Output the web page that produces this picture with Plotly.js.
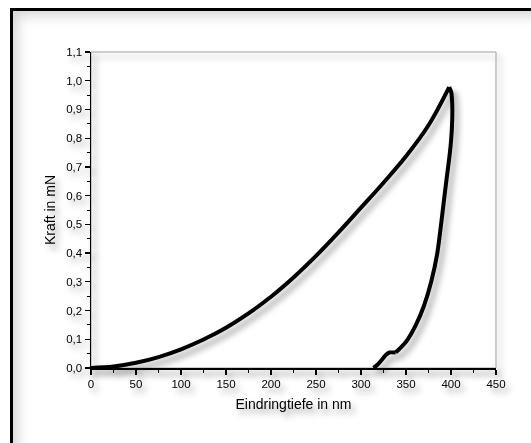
<!DOCTYPE html>
<html>
<head>
<meta charset="utf-8">
<script src="https://cdn.plot.ly/plotly-3.0.1.min.js"></script>
<style>
  html, body { margin: 0; padding: 0; width: 531px; height: 443px; overflow: hidden; background: #fff; }
  #frame { position: absolute; left: 10px; top: 8px; width: 560px; height: 480px; border: 3px solid #000;
           box-shadow: inset 0 0 14px 4px rgba(0,0,0,0.18); background: #fff; }
  #plot { position: absolute; left: 0; top: 0; width: 531px; height: 443px;
          filter: drop-shadow(4px 5px 3px rgba(0,0,0,0.38)); }
</style>
</head>
<body>
<div id="frame"></div>
<div id="plot"></div>
<script>
const loadDepth = [0, 25, 50, 75, 100, 125, 150, 175, 200, 225, 250, 275, 300, 325, 350, 375, 398];
const loadForce = [0, 0.005, 0.018, 0.038, 0.065, 0.099, 0.140, 0.190, 0.248, 0.315, 0.390, 0.472, 0.558, 0.645, 0.737, 0.845, 0.978];
const unloadUpperDepth = [398, 400.3, 401.2, 401.5, 401.2, 400.3, 398.8, 396.8, 392.8, 389, 384.8, 378, 369.8, 361, 352, 345.5, 340.5, 338.5];
const unloadUpperForce = [0.978, 0.96, 0.93, 0.9, 0.85, 0.8, 0.75, 0.7, 0.6, 0.5, 0.4, 0.3, 0.215, 0.15, 0.1, 0.075, 0.06, 0.054];
const unloadLowerDepth = [338.5, 331.5, 327.5, 323, 318.5, 314];
const unloadLowerForce = [0.054, 0.054, 0.045, 0.028, 0.012, 0];
const xTitle = 'Eindringtiefe in nm';
const yTitle = 'Kraft in mN';

const line = {color: '#000', width: 4};
const data = [
  {x: loadDepth, y: loadForce, mode: 'lines', line: Object.assign({shape: 'spline', smoothing: 1}, line), hoverinfo: 'none'},
  {x: unloadUpperDepth, y: unloadUpperForce, mode: 'lines', line: Object.assign({shape: 'spline', smoothing: 0.6}, line), hoverinfo: 'none'},
  {x: unloadLowerDepth, y: unloadLowerForce, mode: 'lines', line: Object.assign({shape: 'spline', smoothing: 0.4}, line), hoverinfo: 'none'}
];
const font = {family: 'Liberation Sans, Arial, sans-serif', color: '#000'};
const layout = {
  width: 531, height: 443,
  margin: {l: 91, r: 35, t: 52, b: 75},
  paper_bgcolor: 'rgba(0,0,0,0)', plot_bgcolor: 'rgba(0,0,0,0)',
  separators: ',.',
  showlegend: false,
  font: Object.assign({size: 11.5}, font),
  xaxis: {
    range: [0, 450], dtick: 50, tick0: 0, showgrid: false, zeroline: false,
    showline: true, linecolor: '#000', linewidth: 1.5,
    ticks: 'outside', ticklen: 5, tickwidth: 1.2, tickcolor: '#000',
    minor: {dtick: 25, ticks: 'outside', ticklen: 3, tickwidth: 1, tickcolor: '#000'},
    tickfont: Object.assign({size: 11.5}, font),
    title: {text: xTitle, font: Object.assign({size: 14}, font), standoff: 10}
  },
  yaxis: {
    range: [0, 1.1], dtick: 0.1, tick0: 0, tickformat: '.1f', showgrid: false, zeroline: false,
    showline: true, linecolor: '#000', linewidth: 1.5,
    ticks: 'outside', ticklen: 5, tickwidth: 1.2, tickcolor: '#000',
    minor: {dtick: 0.05, ticks: 'outside', ticklen: 3, tickwidth: 1, tickcolor: '#000'},
    tickfont: Object.assign({size: 11.5}, font),
    title: {text: yTitle, font: Object.assign({size: 14}, font), standoff: 7}
  },
  shapes: [{type: 'rect', xref: 'paper', yref: 'paper', x0: 0, x1: 1, y0: 0, y1: 1,
            line: {color: '#a0a0a0', width: 1}, layer: 'below'}]
};
Plotly.newPlot('plot', data, layout, {staticPlot: true, displayModeBar: false});
</script>
</body>
</html>
